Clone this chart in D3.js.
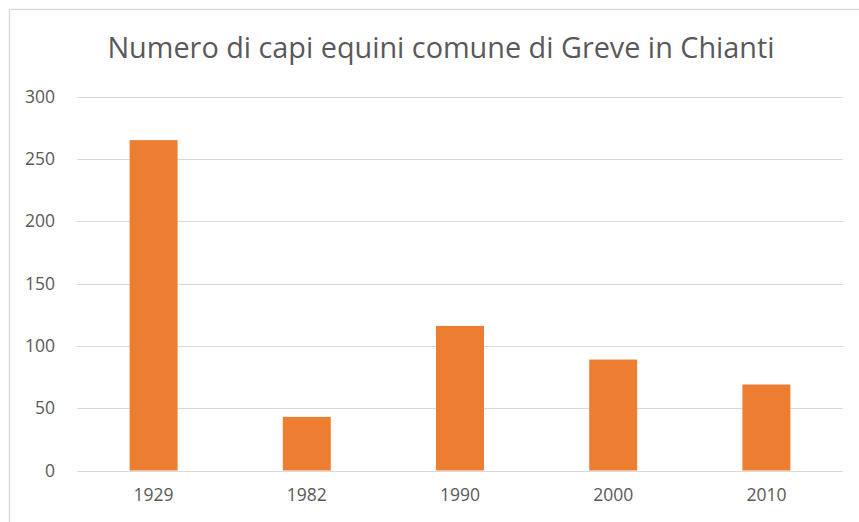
<!DOCTYPE html>
<html>
<head>
<meta charset="utf-8">
<script src="https://cdn.jsdelivr.net/npm/d3@7"></script>
<style>
  html, body { margin: 0; padding: 0; background: #fff; }
  svg { display: block; }
  text { font-family: "Open Sans", "Noto Sans", sans-serif; fill: #595959; }
</style>
</head>
<body>
<svg id="chart" width="859" height="522"></svg>
<script>
// Horse head counts per census year
const titleText = "Numero di capi equini comune di Greve in Chianti";
const years = ["1929", "1982", "1990", "2000", "2010"];
const horses = [265, 43, 116, 89, 69];
const yTicks = [0, 50, 100, 150, 200, 250, 300];

const svg = d3.select("#chart");
const W = 859, H = 522;
const plot = { left: 77, right: 843, top: 96.5, bottom: 470.5 };

// Chart frame
svg.append("rect")
  .attr("x", 9.5).attr("y", 9.5)
  .attr("width", W + 20).attr("height", H + 20)
  .attr("fill", "#fff").attr("stroke", "#d9d9d9").attr("stroke-width", 1.3);

const x = d3.scaleBand().domain(years).range([plot.left, plot.right]).padding(0);
const y = d3.scaleLinear().domain([0, 300]).range([plot.bottom, plot.top]);
const barW = x.bandwidth() * 0.313;

// Horizontal gridlines
svg.append("g")
  .selectAll("line")
  .data(yTicks)
  .join("line")
  .attr("x1", plot.left).attr("x2", plot.right)
  .attr("y1", d => Math.round(y(d)) + 0.5).attr("y2", d => Math.round(y(d)) + 0.5)
  .attr("stroke", "#d9d9d9").attr("stroke-width", 1);

// Y axis labels
const yAxis = d3.axisLeft(y).tickValues(yTicks).tickSize(0).tickPadding(0);
const gy = svg.append("g").attr("transform", `translate(${plot.left - 22},0)`).call(yAxis);
gy.select(".domain").remove();
gy.selectAll("text").style("font-size", "17.5px").attr("fill", "#595959")
  .style("font-family", "\"Open Sans\", sans-serif");

// Bars
svg.append("g")
  .selectAll("rect")
  .data(years.map((yr, i) => ({ yr, v: horses[i] })))
  .join("rect")
  .attr("x", d => x(d.yr) + (x.bandwidth() - barW) / 2)
  .attr("width", barW)
  .attr("y", d => y(d.v))
  .attr("height", d => y(0) - y(d.v))
  .attr("fill", "#ed7d31");

// X axis labels
const xAxis = d3.axisBottom(x).tickSize(0).tickPadding(0);
const gx = svg.append("g").attr("transform", `translate(0,${plot.bottom + 18})`).call(xAxis);
gx.select(".domain").remove();
gx.selectAll("text").style("font-size", "17.5px").attr("fill", "#595959")
  .style("font-family", "\"Open Sans\", sans-serif");

// Title
svg.append("text")
  .attr("x", 441).attr("y", 58)
  .attr("text-anchor", "middle")
  .style("font-size", "28.8px")
  .text(titleText);
</script>
</body>
</html>
